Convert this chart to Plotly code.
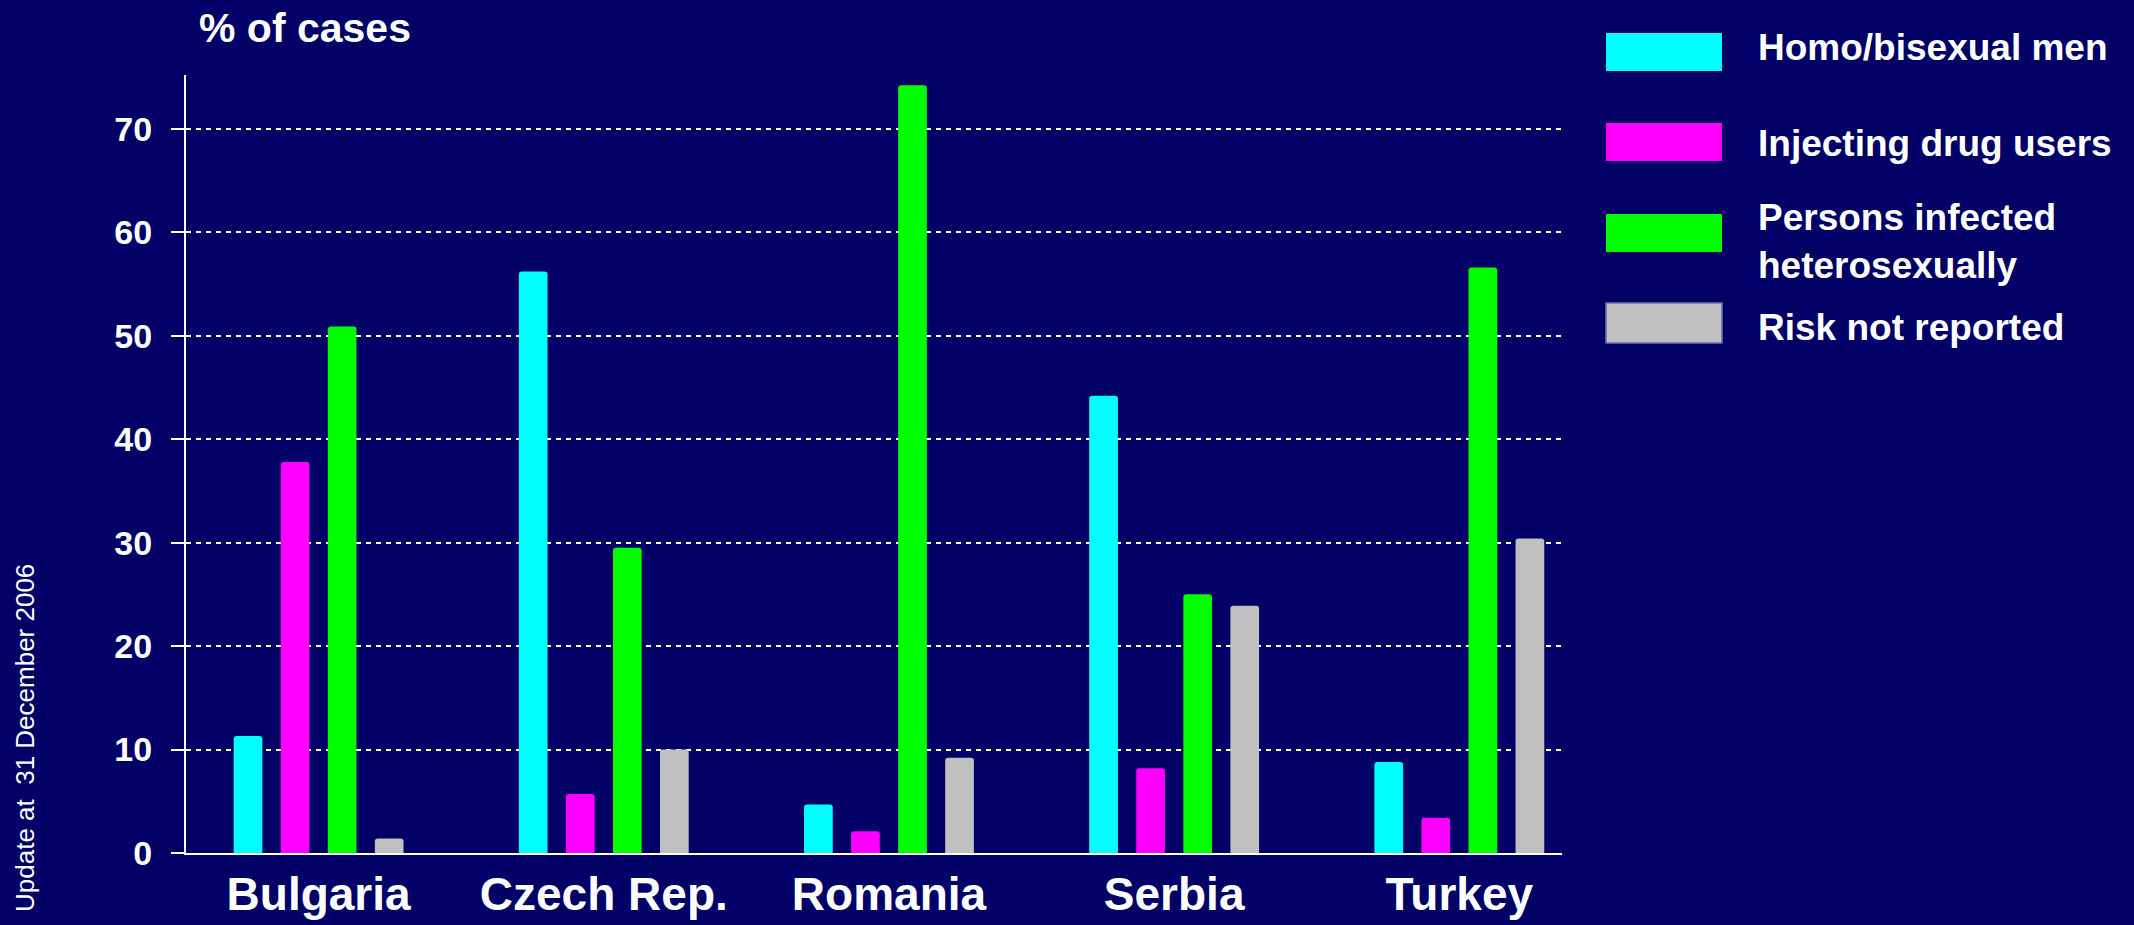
import plotly.graph_objects as go

# ---- data ----
countries = ["Bulgaria", "Czech Rep.", "Romania", "Serbia", "Turkey"]
series_names = ["Homo/bisexual men", "Injecting drug users",
                "Persons infected<br>heterosexually", "Risk not reported"]
homo_bisexual = [11.3, 56.2, 4.7, 44.2, 8.8]
injecting_drug = [37.8, 5.7, 2.1, 8.2, 3.4]
heterosexual = [50.9, 29.5, 74.2, 25.0, 56.6]
not_reported = [1.4, 10.0, 9.2, 23.9, 30.4]
y_ticks = [0, 10, 20, 30, 40, 50, 60, 70]

series_values = [homo_bisexual, injecting_drug, heterosexual, not_reported]
colors = ["#00FFFF", "#FF00FF", "#00FF00", "#C0C0C0"]

BG = "#000066"
FONT = "Liberation Sans, Arial, sans-serif"
W, H = 2134, 925
L, R, T, B = 186, 1562, 75, 853  # plot area in pixels


def px_x(px):
    return (px - L) / (R - L)


def px_y(py):
    return (B - py) / (B - T)


fig = go.Figure()
for name, vals, col in zip(series_names, series_values, colors):
    fig.add_trace(go.Bar(
        x=countries, y=vals, name=name,
        marker=dict(color=col, line=dict(width=0), cornerradius=3),
        showlegend=False,
    ))

fig.update_layout(
    width=W, height=H,
    paper_bgcolor=BG, plot_bgcolor=BG,
    margin=dict(l=L, r=W - R, t=T, b=H - B, pad=0),
    barmode="group", bargap=0.34, bargroupgap=0.39,
    font=dict(family=FONT, color="white"),
    showlegend=False,
)

fig.update_xaxes(
    range=[-0.465, 4.36], automargin=False,
    showline=True, linecolor="white", linewidth=2,
    showgrid=False, zeroline=False, ticks="",
    tickfont=dict(family=FONT, size=46, color="white", weight="bold"),
    ticklabelstandoff=0,
)
fig.update_yaxes(
    range=[0, 75.2], automargin=False,
    tickvals=y_ticks,
    showline=True, linecolor="white", linewidth=2,
    ticks="outside", ticklen=13, tickwidth=2, tickcolor="white",
    showgrid=True, gridcolor="white", gridwidth=2, griddash="5px,5px",
    zeroline=False,
    tickfont=dict(family=FONT, size=34, color="white", weight="bold"),
    ticklabelstandoff=12,
)

annotations = []
# y-axis title
annotations.append(dict(
    text="<b>% of cases</b>", xref="paper", yref="paper",
    x=px_x(197), y=px_y(28), xanchor="left", yanchor="middle",
    showarrow=False, font=dict(family=FONT, size=41, color="white"),
))
# side note
annotations.append(dict(
    text="Update at  31 December 2006", xref="paper", yref="paper",
    x=px_x(25), y=px_y(562), xanchor="center", yanchor="top",
    textangle=-90, showarrow=False,
    font=dict(family=FONT, size=26, color="white"),
))

# custom legend
box_rows = [(33, 71), (123, 161), (214, 252), (303, 343)]
text_rows = [47, 143, 241, 327]
shapes = []
for i, (name, col) in enumerate(zip(series_names, colors)):
    y_top, y_bot = box_rows[i]
    shapes.append(dict(
        type="rect", xref="paper", yref="paper",
        x0=px_x(1606), x1=px_x(1722), y0=px_y(y_bot), y1=px_y(y_top),
        fillcolor=col,
        line=dict(width=1.5 if i == 3 else 0, color="#7070A8"),
    ))
    annotations.append(dict(
        text="<b>" + name + "</b>", xref="paper", yref="paper",
        x=px_x(1756), y=px_y(text_rows[i]), xanchor="left", yanchor="middle",
        align="left", showarrow=False,
        font=dict(family=FONT, size=37, color="white"),
    ))

fig.update_layout(annotations=annotations, shapes=shapes)
fig.write_html(
    "out.html",
    config={"displayModeBar": False},
    post_script="document.body.style.margin='0';document.body.style.padding='0';"
                "document.body.style.background='" + BG + "';",
)
